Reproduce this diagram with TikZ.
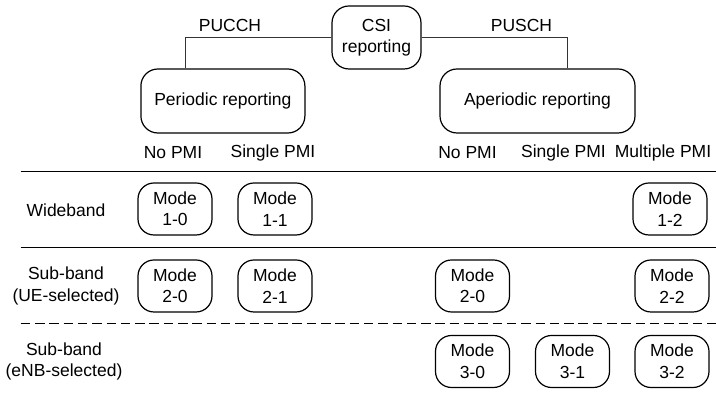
\documentclass[tikz,border=0pt]{standalone}
\usepackage{fontspec}
\setmainfont{Liberation Sans}
\begin{document}
\begin{tikzpicture}[x=1pt,y=1pt,
  every node/.style={font=\fontsize{17.5}{21.5}\selectfont, align=center, inner sep=0pt},
  rbox/.style={draw, line width=1.2pt, rounded corners=17pt},
  modebox/.style={rbox, minimum width=74pt, minimum height=52pt, rounded corners=16pt},
  conn/.style={draw, line width=0.9pt, black!80},
  sep/.style={draw, line width=1pt}]
\useasboundingbox (0,0) rectangle (716,398);
% top tree
\node[rbox, minimum width=89pt, minimum height=63pt] (csi) at (376.5,360.5) {CSI\\reporting};
\node[rbox, minimum width=164pt, minimum height=64pt] (per) at (222.9,297) {Periodic reporting};
\node[rbox, minimum width=195pt, minimum height=64pt] (aper) at (537.5,297) {Aperiodic reporting};
\draw[conn] (csi.west) -| ([xshift=-37.2pt]per.north);
\draw[conn] (csi.east) -| ([xshift=29.5pt]aper.north);
\node (pucch) at (230,373) {PUCCH};
\node (pusch) at (521.5,373) {PUSCH};
% column headers
\node (h1) at (173,245) {No PMI};
\node (h2) at (273,245) {Single PMI};
\node (h3) at (467.5,245) {No PMI};
\node (h4) at (563.5,245) {Single PMI};
\node (h5) at (663,245) {Multiple PMI};
% separators
\coordinate (s1a) at (20.7,226.3); \coordinate (s1b) at (716,226.3);
\coordinate (s2a) at (20.7,150.7); \coordinate (s2b) at (716,150.7);
\coordinate (s3a) at (20.7,74.7);  \coordinate (s3b) at (716,74.7);
\draw[sep] (s1a) -- (s1b);
\draw[sep] (s2a) -- (s2b);
\draw[sep, dash pattern=on 9.5pt off 4.8pt] (s3a) -- (s3b);
% row labels
\node (r1) at (66,188) {Wideband};
\node (r2) at (66,112) {Sub-band\\(UE-selected)};
\node (r3) at (64,36.5) {Sub-band\\(eNB-selected)};
% modes
\node[modebox] (m10) at (175,189) {Mode\\1-0};
\node[modebox] (m11) at (275,189) {Mode\\1-1};
\node[modebox] (m12) at (670,189) {Mode\\1-2};
\node[modebox] (m20) at (175,112) {Mode\\2-0};
\node[modebox] (m21) at (275,112) {Mode\\2-1};
\node[modebox] (m20b) at (472.5,112) {Mode\\2-0};
\node[modebox] (m22) at (672,112) {Mode\\2-2};
\node[modebox] (m30) at (472.5,36.5) {Mode\\3-0};
\node[modebox] (m31) at (572.5,36.5) {Mode\\3-1};
\node[modebox] (m32) at (672,36.5) {Mode\\3-2};
\end{tikzpicture}
\end{document}
